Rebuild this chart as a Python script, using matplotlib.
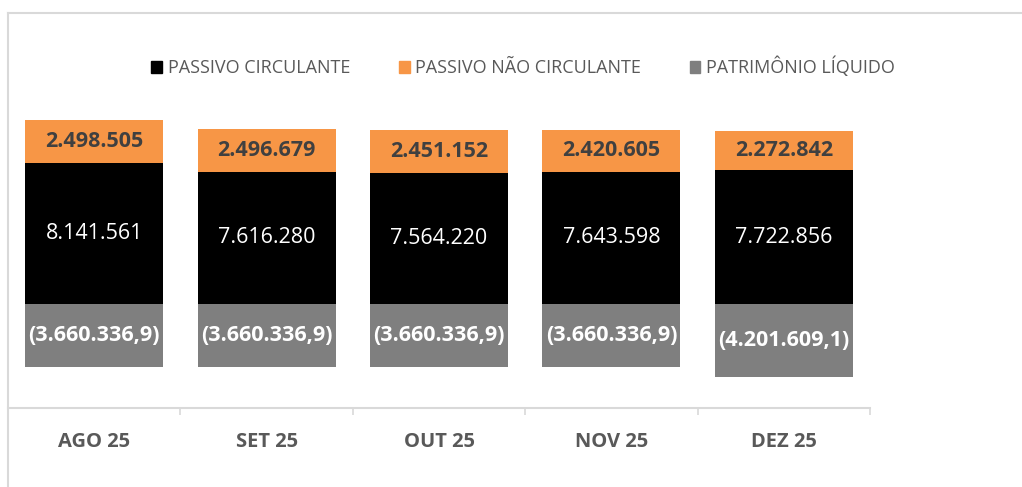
import matplotlib.pyplot as plt
from matplotlib.patches import Patch
from matplotlib.lines import Line2D
import numpy as np

meses = ['AGO 25', 'SET 25', 'OUT 25', 'NOV 25', 'DEZ 25']
passivo_circulante = [8141561, 7616280, 7564220, 7643598, 7722856]
passivo_nao_circulante = [2498505, 2496679, 2451152, 2420605, 2272842]
patrimonio_liquido = [-3660336.9, -3660336.9, -3660336.9, -3660336.9, -4201609.1]

COR_PC = '#000000'
COR_PNC = '#F79646'
COR_PL = '#7F7F7F'
TXT = '#595959'


def fmt_br(v, dec=0):
    s = f'{abs(v):,.{dec}f}'
    s = s.replace(',', 'X').replace('.', ',').replace('X', '.')
    return f'({s})' if v < 0 else s


plt.rcParams['font.family'] = ['Open Sans', 'DejaVu Sans']

fig = plt.figure(figsize=(10.22, 4.87), dpi=100)
ax = fig.add_axes([8 / 1022, 1 - 408 / 487, 862 / 1022, (408 - 96) / 487])

x = np.arange(len(meses))
w = 0.8
ax.bar(x, patrimonio_liquido, w, color=COR_PL)
ax.bar(x, passivo_circulante, w, color=COR_PC)
ax.bar(x, passivo_nao_circulante, w, bottom=passivo_circulante, color=COR_PNC)

for i in range(len(meses)):
    ax.text(x[i], passivo_circulante[i] / 2, fmt_br(passivo_circulante[i]),
            ha='center', va='center', color='white', fontsize=15.5)
    ax.text(x[i], passivo_circulante[i] + passivo_nao_circulante[i] / 2,
            fmt_br(passivo_nao_circulante[i]), ha='center', va='center',
            color='#404040', fontsize=15.5, fontweight='bold')
    ax.text(x[i], patrimonio_liquido[i] / 2, fmt_br(patrimonio_liquido[i], 1),
            ha='center', va='center', color='white', fontsize=15.5, fontweight='bold')

ax.set_xlim(-0.5, len(meses) - 0.5)
ax.set_ylim(-6000000, 12000000)
ax.set_yticks([])
for s in ['top', 'right', 'left']:
    ax.spines[s].set_visible(False)
ax.spines['bottom'].set_color('#D9D9D9')
ax.spines['bottom'].set_linewidth(1.5)

ax.set_xticks(x)
ax.set_xticklabels(meses, fontsize=14.5, fontweight='bold', color=TXT)
ax.tick_params(axis='x', which='major', length=0, pad=17)
ax.set_xticks(np.arange(-0.5, len(meses)), minor=True)
ax.tick_params(axis='x', which='minor', length=5, color='#D9D9D9', width=1.2)

# chart border (light gray frame)
fig.add_artist(Line2D([8 / 1022, 8 / 1022], [0, 1 - 13 / 487], color='#D9D9D9', lw=1.5))
fig.add_artist(Line2D([8 / 1022, 1], [1 - 13 / 487, 1 - 13 / 487], color='#D9D9D9', lw=1.5))

handles = [Patch(color=COR_PC, label='PASSIVO CIRCULANTE'),
           Patch(color=COR_PNC, label='PASSIVO NÃO CIRCULANTE'),
           Patch(color=COR_PL, label='PATRIMÔNIO LÍQUIDO')]
leg = fig.legend(handles=handles, loc='center', bbox_to_anchor=(523 / 1022, 1 - 67 / 487),
                 ncol=3, frameon=False, fontsize=13, handlelength=0.6, handleheight=0.6,
                 handletextpad=0.3, columnspacing=2.7)
for t in leg.get_texts():
    t.set_color(TXT)

fig.savefig('out.png', dpi=100)
